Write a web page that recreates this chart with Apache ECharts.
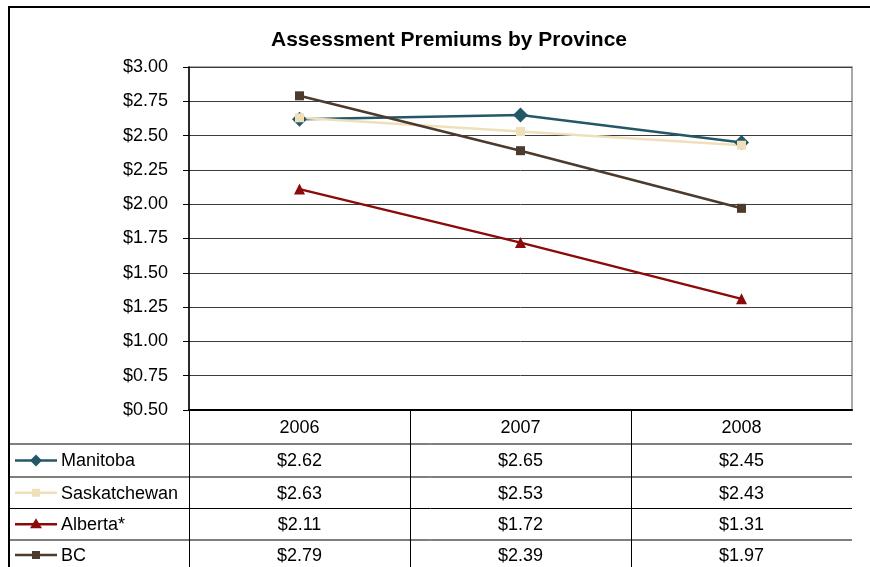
<!DOCTYPE html>
<html>
<head>
<meta charset="utf-8">
<script src="https://cdn.jsdelivr.net/npm/echarts@6/dist/echarts.min.js"></script>
<style>
  html, body { margin: 0; padding: 0; background: #ffffff; }
  #chart { width: 870px; height: 567px; }
</style>
</head>
<body>
<div id="chart"></div>
<script>
// Assessment premium per province, in dollars
const years = ['2006', '2007', '2008'];
const manitoba = [2.62, 2.65, 2.45];
const saskatchewan = [2.63, 2.53, 2.43];
const alberta = [2.11, 1.72, 1.31];
const bc = [2.79, 2.39, 1.97];
const provinceNames = ['Manitoba', 'Saskatchewan', 'Alberta*', 'BC'];
const yMin = 0.5, yMax = 3.0, yStep = 0.25;

const FONT = '"Liberation Sans", Arial, sans-serif';
const money = v => '$' + v.toFixed(2);

const provinces = [
  { name: provinceNames[0], data: manitoba,     color: '#245868', symbol: 'diamond',  size: 15 },
  { name: provinceNames[1], data: saskatchewan, color: '#EEE0BA', symbol: 'rect',     size: 9 },
  { name: provinceNames[2], data: alberta,      color: '#8B0A0A', symbol: 'triangle', size: 11 },
  { name: provinceNames[3], data: bc,           color: '#4C3A2C', symbol: 'rect',     size: 9 }
];

const chart = echarts.init(document.getElementById('chart'));

chart.setOption({
  animation: false,
  backgroundColor: '#ffffff',
  title: {
    text: 'Assessment Premiums by Province',
    left: 266, top: 25,
    textStyle: { fontFamily: FONT, fontSize: 21, fontWeight: 'bold', color: '#000' }
  },
  grid: {
    left: 189, top: 67, width: 663, height: 343,
    show: true, borderColor: '#8c8c8c', borderWidth: 1.5
  },
  xAxis: {
    type: 'category',
    data: years,
    boundaryGap: true,
    axisLine: { show: true, lineStyle: { color: '#000', width: 2 } },
    axisTick: { show: false },
    axisLabel: { show: false },
    splitLine: { show: false }
  },
  yAxis: {
    type: 'value',
    min: yMin, max: yMax, interval: yStep,
    axisLine: { show: true, lineStyle: { color: '#000', width: 1.5 } },
    axisTick: { show: true, length: 6, lineStyle: { color: '#000' } },
    axisLabel: {
      margin: 21, color: '#000', fontFamily: FONT, fontSize: 18,
      formatter: v => money(v)
    },
    splitLine: { show: true, lineStyle: { color: '#3c3c3c', width: 1 } }
  },
  series: provinces.map(p => ({
    type: 'line',
    name: p.name,
    data: p.data,
    symbol: p.symbol,
    symbolSize: p.size,
    showSymbol: true,
    lineStyle: { color: p.color, width: 2.5 },
    itemStyle: { color: p.color },
    emphasis: { disabled: true }
  }))
});

// Data table under the plot, aligned with the category axis
const colCenters = years.map(y => chart.convertToPixel({ xAxisIndex: 0 }, y));
const colWidth = colCenters[1] - colCenters[0];
const plotLeft = colCenters[0] - colWidth / 2;
const plotRight = colCenters[colCenters.length - 1] + colWidth / 2;
const plotBottom = chart.convertToPixel({ yAxisIndex: 0 }, yMin);

const tableLeft = 9;
const headerBottom = 444;
const rowBounds = [444, 477, 508.5, 540, 572];
const black = '#000';

const g = [];
// outer frame
g.push({ type: 'rect', shape: { x: 9, y: 7, width: 880, height: 600 },
  style: { fill: null, stroke: black, lineWidth: 2 }, z: 10 });

// row rules
for (let i = 0; i < rowBounds.length - 1; i++) {
  g.push({ type: 'line', shape: { x1: tableLeft, y1: rowBounds[i], x2: plotRight, y2: rowBounds[i] },
    style: { stroke: black, lineWidth: 1 } });
}
// column rules
const colEdges = [plotLeft];
for (let i = 0; i < colCenters.length - 1; i++) colEdges.push((colCenters[i] + colCenters[i + 1]) / 2);
colEdges.forEach(x => {
  g.push({ type: 'line', shape: { x1: Math.round(x) + 0.5, y1: plotBottom, x2: Math.round(x) + 0.5, y2: 567 },
    style: { stroke: black, lineWidth: 1 } });
});

// header
years.forEach((y, i) => {
  g.push({ type: 'text', x: colCenters[i], y: (plotBottom + headerBottom) / 2 + 1,
    style: { text: y, fontFamily: FONT, fontSize: 18, fill: black, align: 'center', verticalAlign: 'middle' } });
});

// body rows: legend key, province name, values
function keyShape(p, cx, cy) {
  const s = p.symbol;
  if (s === 'diamond') {
    return { type: 'polygon', shape: { points: [[cx, cy - 6], [cx + 6, cy], [cx, cy + 6], [cx - 6, cy]] },
      style: { fill: p.color } };
  }
  if (s === 'triangle') {
    return { type: 'polygon', shape: { points: [[cx, cy - 6], [cx + 6, cy + 4], [cx - 6, cy + 4]] },
      style: { fill: p.color } };
  }
  return { type: 'rect', shape: { x: cx - 4, y: cy - 4, width: 8, height: 8 }, style: { fill: p.color } };
}

provinces.forEach((p, r) => {
  const cy = (rowBounds[r] + rowBounds[r + 1]) / 2 + (r === 3 ? -1 : 0);
  g.push({ type: 'line', shape: { x1: 15, y1: cy, x2: 57, y2: cy },
    style: { stroke: p.color, lineWidth: 2.5 } });
  g.push(keyShape(p, 36, cy));
  g.push({ type: 'text', x: 61, y: cy + 1,
    style: { text: p.name, fontFamily: FONT, fontSize: 18, fill: black, align: 'left', verticalAlign: 'middle' } });
  p.data.forEach((v, i) => {
    g.push({ type: 'text', x: colCenters[i], y: cy + 1,
      style: { text: money(v), fontFamily: FONT, fontSize: 18, fill: black, align: 'center', verticalAlign: 'middle' } });
  });
});

chart.setOption({ graphic: g });
</script>
</body>
</html>
